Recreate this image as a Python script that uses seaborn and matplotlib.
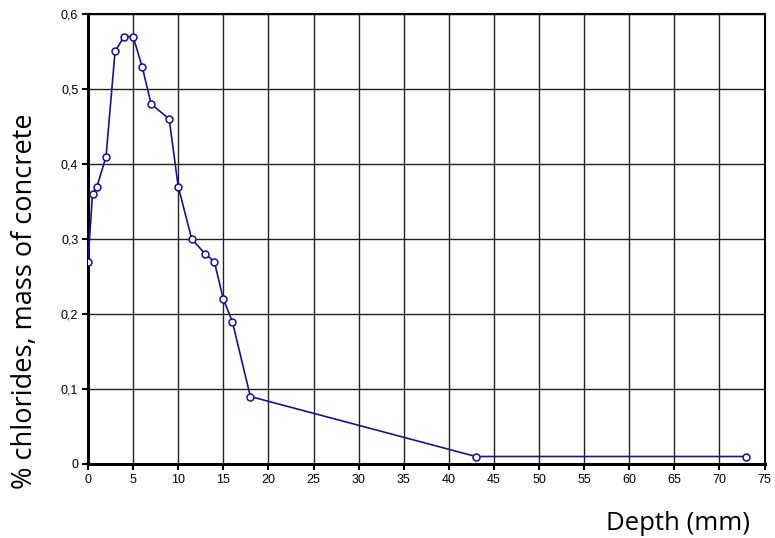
import matplotlib
matplotlib.use("Agg")
import matplotlib.pyplot as plt
import seaborn as sns
import pandas as pd
from matplotlib.ticker import FuncFormatter, MultipleLocator

# Chloride profile: depth below surface vs chloride content
depth_mm = [0, 0.5, 1, 2, 3, 4, 5, 6, 7, 9, 10, 11.5, 13, 14, 15, 16, 18, 43, 73]
chlorides = [0.27, 0.36, 0.37, 0.41, 0.55, 0.57, 0.57, 0.53, 0.48, 0.46, 0.37,
             0.30, 0.28, 0.27, 0.22, 0.19, 0.09, 0.01, 0.01]

df = pd.DataFrame({"depth": depth_mm, "cl": chlorides})

sns.set_style("white")
plt.rcParams["font.family"] = ["Liberation Sans", "DejaVu Sans"]
plt.rcParams["text.color"] = "black"

fig = plt.figure(figsize=(7.75, 5.38), dpi=100)
ax = fig.add_axes([88 / 775, 1 - 464 / 538, (764.5 - 88) / 775, (464 - 14) / 538])

sns.lineplot(data=df, x="depth", y="cl", ax=ax, color="#14148c", linewidth=1.2,
             marker="o", markersize=5, markerfacecolor="white",
             markeredgecolor="#14148c", markeredgewidth=1.1, zorder=3)

ax.set_xlim(0, 75)
ax.set_ylim(0, 0.6)
ax.xaxis.set_major_locator(MultipleLocator(5))
ax.yaxis.set_major_locator(MultipleLocator(0.1))
ax.yaxis.set_major_formatter(FuncFormatter(
    lambda v, _: "0" if abs(v) < 1e-9 else f"{v:.1f}".replace(".", ",")))
ax.xaxis.set_major_formatter(FuncFormatter(lambda v, _: f"{v:g}"))

ax.grid(True, color="#202020", linewidth=1.0)
ax.set_axisbelow(True)
for side in ["left", "bottom"]:
    ax.spines[side].set_linewidth(2.2)
    ax.spines[side].set_color("black")
for side in ["top", "right"]:
    ax.spines[side].set_linewidth(1.5)
    ax.spines[side].set_color("black")

ax.tick_params(axis="both", which="major", direction="out", length=4, width=1.5,
               labelsize=9, colors="black", pad=3,
               bottom=True, left=True)
ax.set_xlabel("")
ax.set_ylabel("")

fig.text(25 / 775, 1 - 301 / 538, "% chlorides, mass of concrete", rotation=90,
         ha="center", va="center", fontsize=19.5, color="black",
         family=["Open Sans", "DejaVu Sans"])
fig.text(750 / 775, 1 - 523 / 538, "Depth (mm)", ha="right", va="center",
         fontsize=18.5, color="black", family=["Open Sans", "DejaVu Sans"])

fig.savefig("out.png", dpi=100)
